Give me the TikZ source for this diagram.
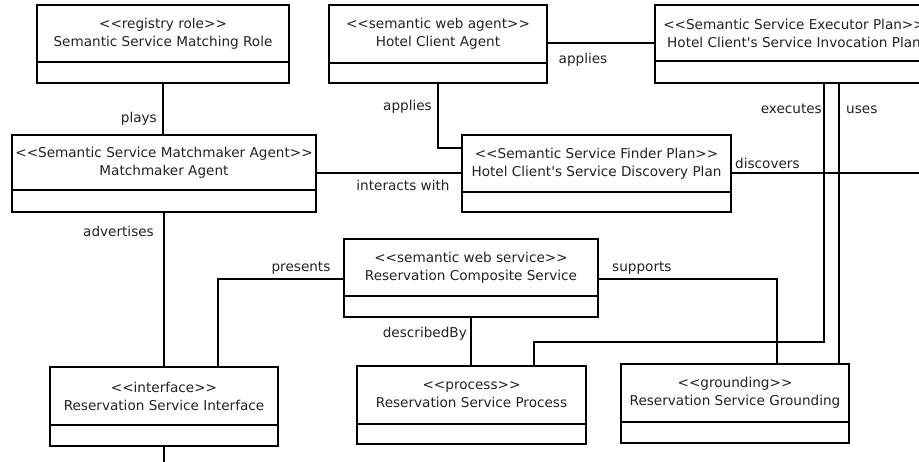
\documentclass[tikz,border=0pt]{standalone}
\usepackage{fontspec}
\setmainfont{DejaVu Sans}[Ligatures=TeXOff]
\usetikzlibrary{calc}
\definecolor{inktext}{RGB}{34,34,34}
\tikzset{
  every picture/.style={x=1pt,y=-1pt},
  classtop/.style={draw, line width=1.8pt, rectangle, inner sep=0pt, outer sep=0pt,
    align=center, text=inktext, font=\fontsize{13.6}{18}\selectfont},
  classbot/.style={draw, line width=1.8pt, rectangle, inner sep=0pt, outer sep=0pt},
  conn/.style={line width=1.8pt},
  lbl/.style={inner sep=0pt, text=inktext, font=\fontsize{13.6}{18}\selectfont}
}
% name, left, top, right, divider, bottom, stereotype, title
\newcommand{\umlclass}[8]{%
  \node[classtop, minimum width={#4-#2}, minimum height={#5-#3}, anchor=north west]
    (#1) at (#2,#3) {#7\\#8};
  \node[classbot, minimum width={#4-#2}, minimum height={#6-#5}, anchor=north]
    (#1-b) at (#1.south) {};
}
\begin{document}
\begin{tikzpicture}
\useasboundingbox (0,0) rectangle (919,461);

% classes
\umlclass{role}{37}{5}{289}{62}{83}{<<registry role>>}{Semantic Service Matching Role}
\umlclass{matchmaker}{12}{135}{316}{190}{212}{<<Semantic Service Matchmaker Agent>>}{Matchmaker Agent}
\umlclass{agent}{329}{5}{547}{63}{83}{<<semantic web agent>>}{Hotel Client Agent}
\umlclass{executor}{655}{5}{933}{61}{83}{<<Semantic Service Executor Plan>>}{Hotel Client's Service Invocation Plan}
\umlclass{finder}{462}{135}{731}{192}{212}{<<Semantic Service Finder Plan>>}{Hotel Client's Service Discovery Plan}
\umlclass{composite}{344}{239}{598}{296}{317}{<<semantic web service>>}{Reservation Composite Service}
\umlclass{interface}{50}{367}{278}{425}{446}{<<interface>>}{Reservation Service Interface}
\umlclass{process}{357}{366}{586}{424}{444}{<<process>>}{Reservation Service Process}
\umlclass{grounding}{621}{364}{849}{422}{443}{<<grounding>>}{Reservation Service Grounding}

% attachment points
\coordinate (iw) at ($(matchmaker.east)+(0,10.5)$);
\coordinate (ae) at ($(agent.east)+(0,9)$);
\coordinate (ex) at ($(executor-b.south)+(30,0)$);
\coordinate (ux) at ($(executor-b.south)+(45,0)$);
\coordinate (de) at ($(finder.east)+(0,9.5)$);
\coordinate (discend) at (925,173);
\coordinate (pw) at ($(composite.west)+(0,11.5)$);
\coordinate (se) at ($(composite.east)+(0,11.5)$);
\coordinate (ifend) at (165,470);

% connectors
\draw[conn] (role-b.south) -- (role-b.south |- matchmaker.north);
\draw[conn] (matchmaker-b.south) -- (matchmaker-b.south |- interface.north);
\draw[conn] (interface-b.south) -- (interface-b.south |- ifend);
\draw[conn] (iw) -- (iw -| finder.west);
\draw[conn] (ae) -- (ae -| executor.west);
\draw[conn] (agent-b.south) |- ($(finder.west)+(0,-15.5)$);
\draw[conn] (ex) |- ($(process.north)+(62.5,-24)$) -- ($(process.north)+(62.5,0)$);
\draw[conn] (ux) -- (ux |- grounding.north);
\draw[conn] (de) -- (de -| discend);
\draw[conn] (pw) -| ($(interface.north)+(54,0)$);
\draw[conn] (se) -| ($(grounding.north)+(42,0)$);
\draw[conn] (composite-b.south) -- (composite-b.south |- process.north);

% connector labels
\node[lbl, anchor=base east] (l-plays) at (157,122) {plays};
\node[lbl, anchor=base east] (l-adv) at (154,236) {advertises};
\node[lbl, anchor=base] (l-inter) at (403,190) {interacts with};
\node[lbl, anchor=base] (l-app1) at (583,63) {applies};
\node[lbl, anchor=base east] (l-app2) at (432,110) {applies};
\node[lbl, anchor=base east] (l-exec) at (822,113) {executes};
\node[lbl, anchor=base west] (l-uses) at (846,113) {uses};
\node[lbl, anchor=base west] (l-disc) at (735,168) {discovers};
\node[lbl, anchor=base] (l-pres) at (301,271) {presents};
\node[lbl, anchor=base west] (l-supp) at (612,271) {supports};
\node[lbl, anchor=base east] (l-desc) at (467,337) {describedBy};
\end{tikzpicture}
\end{document}
